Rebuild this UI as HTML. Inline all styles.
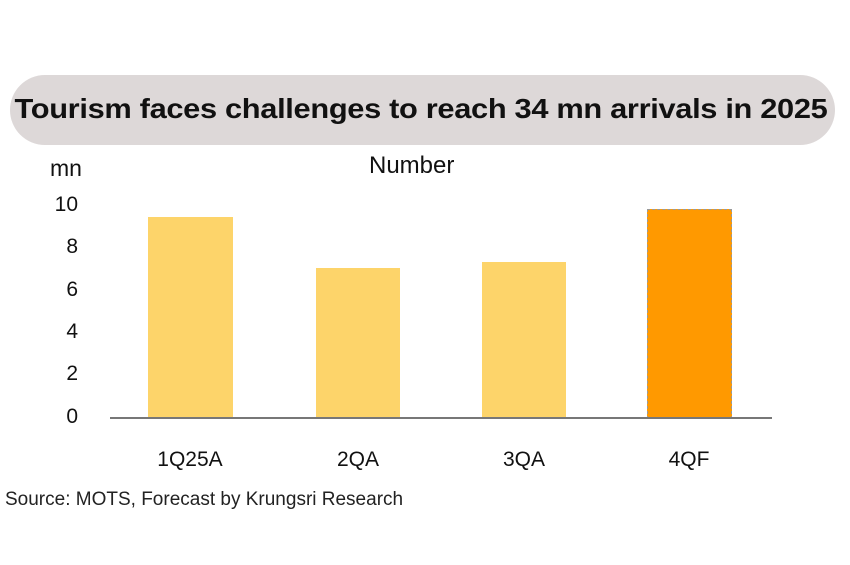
<!DOCTYPE html>
<html><head><style>
body{margin:0;width:850px;height:565px;background:#fff;font-family:"Liberation Sans",sans-serif;position:relative;overflow:hidden}
.a{position:absolute;white-space:nowrap}
.pill{position:absolute;left:10px;top:75px;width:825px;height:70px;border-radius:35px;background:#ddd8d8}
.t{left:-4px;width:850px;text-align:center;top:93px;font-size:28px;font-weight:bold;color:#111;letter-spacing:-0.3px;transform:scaleX(1.1);transform-origin:center}
.y{font-size:21px;color:#111;width:40px;text-align:right;left:38px}
.x{font-size:21px;color:#111;width:120px;text-align:center;top:448px}
.b{position:absolute;background:#fdd46a}
</style></head><body>
<div class="pill"></div>
<div class="a t">Tourism faces challenges to reach 34 mn arrivals in 2025</div>
<div class="a" style="left:50px;top:155px;font-size:23px;color:#111">mn</div>
<div class="a" style="left:369px;top:152px;font-size:24px;color:#111">Number</div>
<div class="a y" style="top:193px">10</div>
<div class="a y" style="top:235px">8</div>
<div class="a y" style="top:278px">6</div>
<div class="a y" style="top:320px">4</div>
<div class="a y" style="top:362px">2</div>
<div class="a y" style="top:405px">0</div>
<div class="b" style="left:148px;top:217px;width:85px;height:201px"></div>
<div class="b" style="left:316px;top:268px;width:84px;height:150px"></div>
<div class="b" style="left:482px;top:262px;width:84px;height:156px"></div>
<div class="b" style="left:647px;top:209px;width:83px;height:208px;background:#ff9900;border:1px dashed #999"></div>
<div class="a" style="left:110px;top:417px;width:662px;height:2px;background:#777"></div>
<div class="a x" style="left:130px">1Q25A</div>
<div class="a x" style="left:298px">2QA</div>
<div class="a x" style="left:464px">3QA</div>
<div class="a x" style="left:629px">4QF</div>
<div class="a" style="left:5px;top:489px;font-size:19px;color:#222">Source: MOTS, Forecast by Krungsri Research</div>
</body></html>
